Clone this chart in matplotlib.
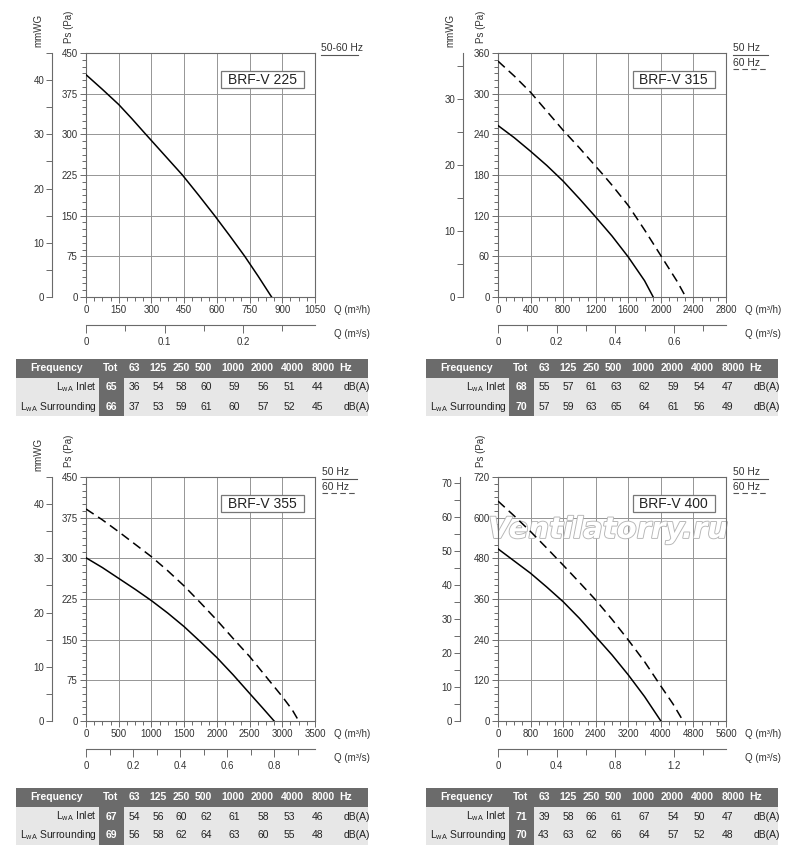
import matplotlib
matplotlib.use("Agg")
import matplotlib.pyplot as plt
from matplotlib.ticker import MultipleLocator, FuncFormatter
from matplotlib.patches import Rectangle
import matplotlib.patheffects as pe

plt.rcParams['font.family'] = ['Liberation Sans', 'DejaVu Sans']
plt.rcParams['mathtext.fontset'] = 'custom'
plt.rcParams['mathtext.rm'] = 'Liberation Sans'
plt.rcParams['mathtext.it'] = 'Liberation Sans'
plt.rcParams['mathtext.bf'] = 'Liberation Sans:bold'

W, H = 800, 864

# chart settings
models = ['BRF-V 225', 'BRF-V 315', 'BRF-V 355', 'BRF-V 400']
q_max = [1050, 2800, 3500, 5600]
q_step = [150, 400, 500, 800]
ps_max = [450, 360, 450, 720]
ps_step = [75, 60, 75, 120]
mm_max = [45, 37, 45, 71.7]
qs_major = [0.1, 0.2, 0.2, 0.4]
qs_minor = [0.05, 0.1, 0.1, 0.2]

# fan curves (Q m3/h, Ps Pa)
q_225 = [0, 75, 150, 210, 272, 357, 442, 516, 590, 659, 728, 790, 851]
ps_225 = [410, 383, 355, 329, 301, 263, 225, 188, 150, 113, 75, 38, 0]

q_315_50 = [0, 200, 400, 600, 800, 1000, 1200, 1400, 1600, 1800, 1906]
ps_315_50 = [253, 235, 215, 194, 171, 145, 118, 90, 59, 24, 0]
q_315_60 = [0, 200, 400, 600, 800, 1000, 1294, 1400, 1600, 1800, 2000, 2200, 2306]
ps_315_60 = [348, 326, 302, 274, 246, 220, 180, 165, 135, 99, 61, 23, 0]

q_355_50 = [0, 250, 500, 750, 1000, 1250, 1500, 1750, 2000, 2250, 2500, 2700, 2875]
ps_355_50 = [301, 283, 263, 243, 222, 199, 174, 146, 117, 85, 51, 24, 0]
q_355_60 = [0, 250, 500, 750, 1000, 1250, 1500, 1750, 2000, 2250, 2500, 2750, 3000, 3150, 3252]
ps_355_60 = [391, 371, 349, 326, 303, 277, 249, 218, 186, 152, 119, 82, 45, 21, 0]

q_400_50 = [0, 400, 800, 1200, 1600, 2000, 2400, 2800, 3200, 3600, 4000]
ps_400_50 = [508, 472, 436, 395, 352, 303, 249, 195, 136, 72, 0]
q_400_60 = [0, 400, 800, 1200, 1600, 2000, 2400, 2800, 3200, 3600, 4000, 4300, 4547]
ps_400_60 = [649, 605, 559, 510, 460, 409, 357, 300, 239, 175, 103, 50, 0]

solid = [(q_225, ps_225), (q_315_50, ps_315_50), (q_355_50, ps_355_50), (q_400_50, ps_400_50)]
dashed = [None, (q_315_60, ps_315_60), (q_355_60, ps_355_60), (q_400_60, ps_400_60)]

# sound tables
bands = ['63', '125', '250', '500', '1000', '2000', '4000', '8000']
tot_inlet = [65, 68, 67, 71]
tot_surr = [66, 70, 69, 70]
inlet_225 = [36, 54, 58, 60, 59, 56, 51, 44]
surr_225 = [37, 53, 59, 61, 60, 57, 52, 45]
inlet_315 = [55, 57, 61, 63, 62, 59, 54, 47]
surr_315 = [57, 59, 63, 65, 64, 61, 56, 49]
inlet_355 = [54, 56, 60, 62, 61, 58, 53, 46]
surr_355 = [56, 58, 62, 64, 63, 60, 55, 48]
inlet_400 = [39, 58, 66, 61, 67, 54, 50, 47]
surr_400 = [43, 63, 62, 66, 64, 57, 52, 48]
inlets = [inlet_225, inlet_315, inlet_355, inlet_400]
surrs = [surr_225, surr_315, surr_355, surr_400]

# layout in pixels (left, top, right, bottom)
boxes = [(86, 53, 315, 297), (498, 53, 726, 297), (86, 477, 315, 721), (498, 477, 726, 721)]
mm_off = [34, 35, 34, 38]
tables = [(16, 359), (426, 359), (16, 788), (426, 788)]

PX = 0.72  # points per pixel at dpi 100
gray = '#6a6a6a'
txt = '#333333'

fig = plt.figure(figsize=(8, 8.64), dpi=100)

# overlay in pixel coords for tables and legends
ax_t = fig.add_axes([0, 0, 1, 1])
ax_t.set_xlim(0, W)
ax_t.set_ylim(H, 0)
ax_t.axis('off')

fmt = FuncFormatter(lambda v, p: '%g' % round(v, 3))

for i in range(4):
    l, t, r, b = boxes[i]
    ax = fig.add_axes([l / W, 1 - b / H, (r - l) / W, (b - t) / H])
    ax.set_xlim(0, q_max[i])
    ax.set_ylim(0, ps_max[i])
    ax.xaxis.set_major_locator(MultipleLocator(q_step[i]))
    ax.xaxis.set_minor_locator(MultipleLocator(q_step[i] / 4))
    ax.yaxis.set_major_locator(MultipleLocator(ps_step[i]))
    ax.yaxis.set_minor_locator(MultipleLocator(ps_step[i] / 6))
    ax.grid(True, which='major', color='#959595', lw=0.7)
    ax.set_axisbelow(True)
    for s in ax.spines.values():
        s.set_color(gray)
        s.set_linewidth(0.8)
    ax.tick_params(which='both', direction='out', colors=gray, labelcolor=txt, labelsize=7, width=0.7)
    ax.tick_params(which='major', length=4, pad=2)
    ax.tick_params(which='minor', length=3)

    q, ps = solid[i]
    ax.plot(q, ps, color='black', lw=1.1, zorder=3)
    if dashed[i] is not None:
        q, ps = dashed[i]
        ax.plot(q, ps, color='black', lw=1.1, ls=(0, (6, 3.5)), zorder=3)

    ax.add_patch(Rectangle((0.59, 0.855), 0.36, 0.07, transform=ax.transAxes,
                           fc='white', ec='#777777', lw=0.9, zorder=4))
    ax.text(0.77, 0.89, models[i], transform=ax.transAxes, ha='center', va='center',
            fontsize=10, color='#222222', zorder=5)

    if i == 3:
        ax.text(0.482, 0.783, 'Ventilatorry.ru', transform=ax.transAxes, ha='center', va='center',
                fontsize=21, fontstyle='italic', fontweight='bold', family='DejaVu Sans',
                color='white', zorder=2.5, clip_on=False,
                path_effects=[pe.withStroke(linewidth=1.3, foreground='#b5b5b5')])

    ax.annotate('Q (m³/h)', xy=(1, 0), xycoords='axes fraction', xytext=(19 * PX, -13 * PX),
                textcoords='offset points', ha='left', va='center', fontsize=7, color=txt)
    ax.annotate('Q (m³/s)', xy=(1, 0), xycoords='axes fraction', xytext=(19 * PX, -37 * PX),
                textcoords='offset points', ha='left', va='center', fontsize=7, color=txt)
    ax.annotate('Ps (Pa)', xy=(0, 1), xycoords='axes fraction', xytext=(-17 * PX, 26 * PX),
                textcoords='offset points', ha='center', va='center', rotation=90, fontsize=7, color=txt)
    if i != 3:
        ax.annotate('mmWG', xy=(0, 1), xycoords='axes fraction', xytext=(-48 * PX, 23 * PX),
                    textcoords='offset points', ha='center', va='center', rotation=90, fontsize=7, color=txt)

    # mmWG axis
    axm = ax.twinx()
    axm.set_ylim(0, mm_max[i])
    axm.yaxis.tick_left()
    axm.spines['left'].set_position(('outward', mm_off[i] * PX))
    for k in ['right', 'top', 'bottom']:
        axm.spines[k].set_visible(False)
    axm.spines['left'].set_color(gray)
    axm.spines['left'].set_linewidth(0.8)
    axm.yaxis.set_major_locator(MultipleLocator(10))
    axm.yaxis.set_minor_locator(MultipleLocator(5))
    axm.tick_params(which='both', direction='out', colors=gray, labelcolor=txt, labelsize=7, width=0.7)
    axm.tick_params(which='major', length=4, pad=1.5)
    axm.tick_params(which='minor', length=4)

    # m3/s axis
    axs = ax.twiny()
    axs.set_xlim(0, q_max[i] / 3600)
    axs.xaxis.tick_bottom()
    axs.spines['bottom'].set_position(('outward', 27.5 * PX))
    for k in ['left', 'right', 'top']:
        axs.spines[k].set_visible(False)
    axs.spines['bottom'].set_color(gray)
    axs.spines['bottom'].set_linewidth(0.8)
    axs.xaxis.set_major_locator(MultipleLocator(qs_major[i]))
    axs.xaxis.set_minor_locator(MultipleLocator(qs_minor[i]))
    axs.xaxis.set_major_formatter(fmt)
    axs.tick_params(which='both', direction='out', colors=gray, labelcolor=txt, labelsize=7, width=0.7)
    axs.tick_params(which='major', length=6, pad=3)
    axs.tick_params(which='minor', length=4.5)

    # frequency legend
    if dashed[i] is None:
        ax_t.text(r + 6, t - 5, '50-60 Hz', ha='left', va='center', fontsize=7.5, color=txt)
        ax_t.plot([r + 6, r + 43], [t + 1.5, t + 1.5], color='#555555', lw=0.8)
    else:
        ax_t.text(r + 7, t - 5, '50 Hz', ha='left', va='center', fontsize=7.5, color=txt)
        ax_t.plot([r + 7, r + 42], [t + 1.5, t + 1.5], color='#555555', lw=0.8)
        ax_t.text(r + 7, t + 9.5, '60 Hz', ha='left', va='center', fontsize=7.5, color=txt)
        ax_t.plot([r + 7, r + 42], [t + 16, t + 16], color='#555555', lw=0.8, ls=(0, (5, 3)))

# sound tables
hdr_x = [95, 118, 142, 165, 187, 217, 246, 276, 307]
dat_x = [95, 118, 142, 165, 190.5, 218, 247, 273, 302]
dark = '#6b6b6b'
light = '#e7e7e7'
for i in range(4):
    x0, y0 = tables[i]
    ax_t.add_patch(Rectangle((x0, y0), 352, 18.5, fc=dark, ec='none'))
    ax_t.add_patch(Rectangle((x0, y0 + 19), 352, 18.5, fc=light, ec='none'))
    ax_t.add_patch(Rectangle((x0, y0 + 38), 352, 18.5, fc=light, ec='none'))
    ax_t.add_patch(Rectangle((x0 + 82.5, y0), 25.5, 56.5, fc=dark, ec='none'))
    ax_t.text(x0 + 41, y0 + 9, 'Frequency', ha='center', va='center', fontsize=7.5,
              fontweight='bold', color='white')
    for lab, cx in zip(['Tot'] + bands, hdr_x):
        ax_t.text(x0 + cx, y0 + 9, lab, ha='center', va='center', fontsize=7.5,
                  fontweight='bold', color='white')
    ax_t.text(x0 + 323, y0 + 9, 'Hz', ha='left', va='center', fontsize=7.5,
              fontweight='bold', color='white')
    rows = [('L$_{\\mathrm{wA}}$ Inlet', tot_inlet[i], inlets[i]),
            ('L$_{\\mathrm{wA}}$ Surrounding', tot_surr[i], surrs[i])]
    for k, (lab, tot, vals) in enumerate(rows):
        cy = y0 + 28.5 + k * 19
        ax_t.text(x0 + 80.5, cy, lab, ha='right', va='center', fontsize=7.5, color='#222222')
        ax_t.text(x0 + dat_x[0], cy, str(tot), ha='center', va='center', fontsize=7.5,
                  fontweight='bold', color='white')
        for v, cx in zip(vals, dat_x[1:]):
            ax_t.text(x0 + cx, cy, str(v), ha='center', va='center', fontsize=7.5, color='#222222')
        ax_t.text(x0 + 341, cy, 'dB(A)', ha='center', va='center', fontsize=7.5, color='#222222')

fig.savefig('out.png', dpi=100)
